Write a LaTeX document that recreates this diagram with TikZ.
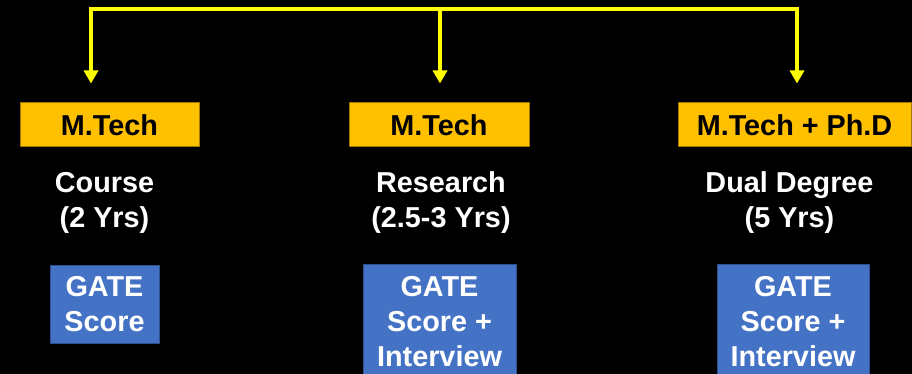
\documentclass[tikz,border=0pt]{standalone}
\usepackage{fontspec}
\setmainfont{Liberation Sans}
\usetikzlibrary{arrows.meta}
\definecolor{ylw}{HTML}{FFFF00}
\definecolor{gold}{HTML}{FFC000}
\definecolor{goldedge}{HTML}{A07800}
\definecolor{bluefill}{HTML}{4472C4}
\definecolor{blueedge}{HTML}{2F528F}
\begin{document}
\begin{tikzpicture}[x=1pt,y=-1pt,
  conn/.style={draw=ylw, line width=4pt, line join=miter, -{Triangle[width=14pt,length=13pt]}, shorten >=19pt},
  ybox/.style={draw=goldedge, line width=1pt, fill=gold, minimum height=44pt, inner sep=0pt, font=\fontsize{28.8}{34}\selectfont\bfseries, text=black},
  bbox/.style={draw=blueedge, line width=1pt, fill=bluefill, inner sep=0pt},
  wtxt/.style={anchor=base, inner sep=0pt, font=\fontsize{28.8}{34}\selectfont\bfseries, text=white}]
\fill[black] (0,0) rectangle (912,374);
\useasboundingbox (0,0) rectangle (912,374);
\clip (0,0) rectangle (912,374);
% yellow boxes
\node[ybox, minimum width=179pt] (y1) at (109.5,125) {M.Tech};
\node[ybox, minimum width=180pt] (y2) at (439,125) {M.Tech};
\node[ybox, minimum width=233pt] (y3) at (794.5,125) {M.Tech + Ph.D};
% connectors
\coordinate (t1) at (91,9);
\coordinate (t2) at (440,9);
\coordinate (t3) at (797,9);
\draw[conn] (t2) -- (t1) -- (t1 |- y1.north);
\draw[conn] (t2) -- (t3) -- (t3 |- y3.north);
\draw[conn] (t2) -- (t2 |- y2.north);
% descriptions
\node[wtxt] (d1a) at (104.5,193) {Course};
\node[wtxt] (d1b) at (104.5,227) {(2 Yrs)};
\node[wtxt] (d2a) at (441,193) {Research};
\node[wtxt] (d2b) at (441,227) {(2.5-3 Yrs)};
\node[wtxt] (d3a) at (789.5,193) {Dual Degree};
\node[wtxt] (d3b) at (789.5,227) {(5 Yrs)};
% blue boxes
\node[bbox, minimum width=109pt, minimum height=78pt] (b1) at (104.5,304) {};
\node[bbox, minimum width=153pt, minimum height=124pt] (b2) at (439.5,326) {};
\node[bbox, minimum width=152pt, minimum height=124pt] (b3) at (793,326) {};
\node[wtxt] (g1a) at (104.5,296) {GATE};
\node[wtxt] (g1b) at (104.5,331) {Score};
\node[wtxt] (g2a) at (439.5,296) {GATE};
\node[wtxt] (g2b) at (439.5,331) {Score +};
\node[wtxt] (g2c) at (439.5,366) {Interview};
\node[wtxt] (g3a) at (793,296) {GATE};
\node[wtxt] (g3b) at (793,331) {Score +};
\node[wtxt] (g3c) at (793,366) {Interview};
\end{tikzpicture}
\end{document}
